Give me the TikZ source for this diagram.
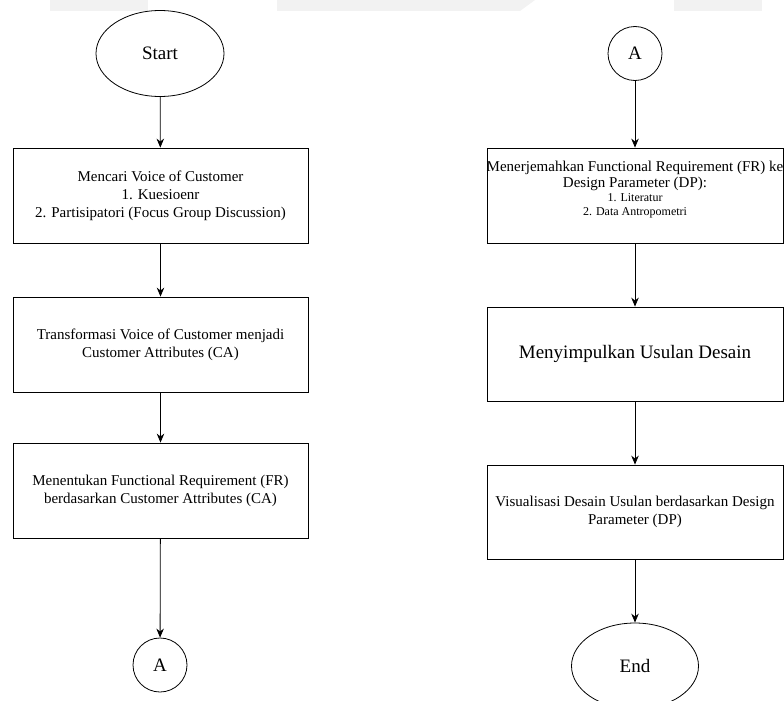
\documentclass[tikz,border=0pt]{standalone}
\usepackage{fontspec}
\setmainfont{Liberation Serif}
\usetikzlibrary{arrows.meta,shapes.geometric}

\tikzset{
  procbox/.style={draw, rectangle, line width=0.8pt, inner sep=0pt, align=center,
    font=\fontsize{15}{18}\selectfont},
  termnode/.style={draw, ellipse, line width=0.8pt, inner sep=0pt,
    font=\fontsize{19}{22}\selectfont},
  connnode/.style={draw, circle, line width=0.8pt, inner sep=0pt, minimum size=54pt,
    font=\fontsize{19}{22}\selectfont},
  flow/.style={line width=0.8pt, -{Stealth[length=9pt,width=7.5pt]}}
}

\begin{document}
\begin{tikzpicture}[x=1pt,y=-1pt]
        \useasboundingbox (0,0) rectangle (784,701);
        % faint watermark at the top edge
        \fill[gray!10] (50,0) rectangle (148,11);
        \fill[gray!10] (277,0) -- (277,11) -- (520,11) -- (535,0) -- cycle;
        \fill[gray!10] (674,0) rectangle (762,11);
        % Left column
        \node[termnode, minimum width=128pt, minimum height=86pt] (start) at (160,53.5) {Start};
        \node[procbox, minimum width=295pt, minimum height=95pt] (voc) at (160.5,195.5)
            {Mencari Voice of Customer\\1. Kuesioenr\\2. Partisipatori (Focus Group Discussion)};
        \node[procbox, minimum width=295pt, minimum height=95pt] (trans) at (160.5,344.5)
            {Transformasi Voice of Customer menjadi\\Customer Attributes (CA)};
        \node[procbox, minimum width=295pt, minimum height=95pt] (fr) at (160.5,490.5)
            {Menentukan Functional Requirement (FR)\\berdasarkan Customer Attributes (CA)};
        \node[connnode] (conA) at (160,665) {A};
        % Right column
        \node[connnode] (conB) at (635,53.5) {A};
        \node[procbox, minimum width=296pt, minimum height=95pt] (dp) at (635,195.5) {};
        \node[align=center, inner sep=0pt, font=\fontsize{15}{16}\selectfont] (dptext) at (635,189.5)
            {Menerjemahkan Functional Requirement (FR) ke\\Design Parameter (DP):\\[-2pt]
             {\fontsize{12}{14}\selectfont 1. Literatur}\\[-2pt]{\fontsize{12}{14}\selectfont 2. Data Antropometri}};
        \node[procbox, minimum width=296pt, minimum height=94pt, font=\fontsize{19}{22}\selectfont] (usulan) at (635,354)
            {Menyimpulkan Usulan Desain};
        \node[procbox, minimum width=296pt, minimum height=94pt] (visual) at (635,512)
            {Visualisasi Desain Usulan berdasarkan Design\\Parameter (DP)};
        \node[termnode, minimum width=127pt, minimum height=86pt] (stop) at (635,666) {End};
        % Connectors
        \draw[flow] (start) -- (voc);
        \draw[flow] (voc) -- (trans);
        \draw[flow] (trans) -- (fr);
        \draw[flow] (fr) -- (conA);
        \draw[flow] (conB) -- (dp);
        \draw[flow] (dp) -- (usulan);
        \draw[flow] (usulan) -- (visual);
        \draw[flow] (visual) -- (stop);
    \end{tikzpicture}
\end{document}
